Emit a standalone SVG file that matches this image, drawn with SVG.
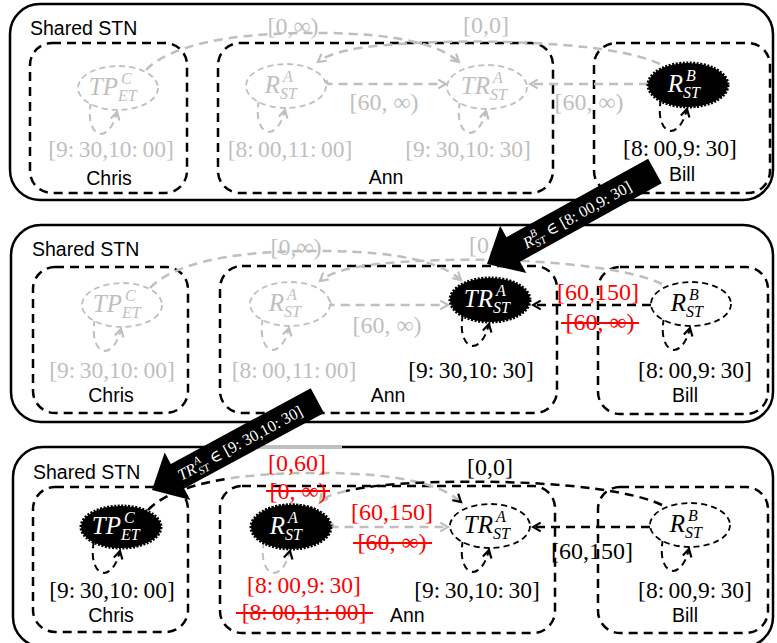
<svg xmlns="http://www.w3.org/2000/svg" width="777" height="643" viewBox="0 0 777 643">
  <defs>
    <style>
      .panel { fill: none; stroke: #000; stroke-width: 2.5; }
      .agent { fill: none; stroke: #000; stroke-width: 2.5; stroke-dasharray: 9 6; }
      .sans { font-family: "Liberation Sans", Arial, sans-serif; font-size: 19.5px; fill: #000; }
      .m { font-family: "Liberation Serif", "DejaVu Serif", serif; font-size: 23.5px; word-spacing: -1.5px; }
      .me { font-family: "Liberation Serif", "DejaVu Serif", serif; font-size: 24px; }
      .mi { font-family: "Liberation Serif", "DejaVu Serif", serif; font-style: italic; font-size: 25px; }
      .ms { font-family: "Liberation Serif", "DejaVu Serif", serif; font-style: italic; font-size: 16px; }
      .c { text-anchor: middle; }
      .g { fill: #bfbfbf; }
      .k { fill: #000; }
      .r { fill: #ff0000; }
      .n-gray ellipse { fill: #fff; stroke: #bfbfbf; stroke-width: 1.8; stroke-dasharray: 6 4; }
      .n-gray text { fill: #bfbfbf; }
      .n-open ellipse { fill: #fff; stroke: #000; stroke-width: 1.8; stroke-dasharray: 6 4; }
      .n-open text { fill: #000; }
      .n-solid ellipse { fill: #000; stroke: #000; stroke-width: 3; stroke-dasharray: 2 1.5; }
      .n-solid text { fill: #fff; }
      .eg { fill: none; stroke: #bfbfbf; stroke-width: 2.5; stroke-dasharray: 9 6; marker-end: url(#ag); }
      .ek { fill: none; stroke: #000; stroke-width: 2.5; stroke-dasharray: 9 6; marker-end: url(#ak); }
      .lg { fill: none; stroke: #bfbfbf; stroke-width: 2; stroke-dasharray: 7 5; marker-end: url(#ag); }
      .lk { fill: none; stroke: #000; stroke-width: 2; stroke-dasharray: 7 5; marker-end: url(#ak); }
      .strike { stroke: #ff0000; stroke-width: 2; }
      .big { fill: #000; }
      .at { font-family: "Liberation Serif", "DejaVu Serif", serif; font-size: 16px; fill: #fff; }
      .ati { font-style: italic; }
      .ats { font-style: italic; font-size: 11px; }
    </style>
    <marker id="ak" viewBox="0 0 10 10" refX="8" refY="5" markerWidth="11" markerHeight="11" markerUnits="userSpaceOnUse" orient="auto">
      <path d="M1,1 L8,5 L1,9" fill="none" stroke="#000" stroke-width="2"/>
    </marker>
    <marker id="ag" viewBox="0 0 10 10" refX="8" refY="5" markerWidth="11" markerHeight="11" markerUnits="userSpaceOnUse" orient="auto">
      <path d="M1,1 L8,5 L1,9" fill="none" stroke="#bfbfbf" stroke-width="2"/>
    </marker>
    <clipPath id="ra3-cap">
      <rect x="248" y="500" width="88" height="9"/>
    </clipPath>
  </defs>

  <!-- ===== Step 1 ===== -->
  <g id="stn-1">
    <rect class="panel" x="10" y="4" width="763" height="196" rx="30"/>
    <text class="sans" x="30" y="35">Shared STN</text>
    <g id="agent-chris-1"><rect class="agent" x="30" y="43" width="157" height="150" rx="22"/><text class="sans c" x="109" y="185">Chris</text></g>
    <g id="agent-ann-1"><rect class="agent" x="218" y="43" width="335" height="150" rx="22"/><text class="sans c" x="386" y="184">Ann</text></g>
    <g id="agent-bill-1"><rect class="agent" x="594" y="43" width="176" height="150" rx="22"/><text class="sans c" x="682" y="181">Bill</text></g>

    <g id="connectors-1">
      <path class="eg" d="M146,70 C170,45 230,34 300,33 C370,32 432,38 459,62"/>
      <path class="eg" d="M660,64 C620,45 520,40 440,42 C380,44 336,48 318,62"/>
      <path class="eg" d="M326,80 L328,84 L446,84"/>
      <path class="eg" d="M648,84 L530,84"/>
      <path class="lg" transform="translate(118,88)" d="M-27,14 C-34,48 -10,60 -1,24"/>
      <path class="lg" transform="translate(286,86)" d="M-27,14 C-34,48 -10,60 -1,24"/>
      <path class="lg" transform="translate(487,87)" d="M-27,14 C-34,48 -10,60 -1,24"/>
      <path class="lk" transform="translate(688,85)" d="M-27,14 C-34,48 -10,60 -1,24"/>
      <text class="me c g" x="293" y="34">[0,∞)</text>
      <text class="me c g" x="486" y="33">[0,0]</text>
      <text class="me c g" x="384" y="110">[60, ∞)</text>
      <text class="me c g" x="589" y="110">[60, ∞)</text>
      <text class="m c g" x="111" y="157">[9: 30,10: 00]</text>
      <text class="m c g" x="290" y="157">[8: 00,11: 00]</text>
      <text class="m c g" x="468" y="157">[9: 30,10: 30]</text>
      <text class="m c k" x="680" y="156">[8: 00,9: 30]</text>
    </g>

    <g id="tp-c-1" class="n-gray" transform="translate(118,88)">
      <ellipse rx="40" ry="22"/>
      <text class="mi" x="0" y="7" text-anchor="end">TP</text><text class="ms" x="3" y="-4">C</text><text class="ms" x="0" y="13">ET</text>
    </g>
    <g id="r-a-1" class="n-gray" transform="translate(286,86)">
      <ellipse rx="40" ry="22"/>
      <text class="mi" x="-6" y="7" text-anchor="end">R</text><text class="ms" x="-3" y="-4">A</text><text class="ms" x="-6" y="13">ST</text>
    </g>
    <g id="tr-a-1" class="n-gray" transform="translate(487,87)">
      <ellipse rx="40" ry="22"/>
      <text class="mi" x="3" y="7" text-anchor="end">TR</text><text class="ms" x="6" y="-4">A</text><text class="ms" x="3" y="13">ST</text>
    </g>
    <g id="r-b-1" class="n-solid" transform="translate(688,85)">
      <ellipse rx="40" ry="22"/>
      <text class="mi" x="-5" y="7" text-anchor="end">R</text><text class="ms" x="-2" y="-4">B</text><text class="ms" x="-5" y="13">ST</text>
    </g>
  </g>

  <!-- ===== Step 2 ===== -->
  <g id="stn-2">
    <rect class="panel" x="11" y="225" width="762" height="197" rx="30"/>
    <text class="sans" x="32" y="256">Shared STN</text>
    <g id="agent-chris-2"><rect class="agent" x="33" y="267" width="155" height="146" rx="22"/><text class="sans c" x="111" y="402">Chris</text></g>
    <g id="agent-ann-2"><rect class="agent" x="220" y="266" width="337" height="147" rx="22"/><text class="sans c" x="388" y="402">Ann</text></g>
    <g id="agent-bill-2"><rect class="agent" x="598" y="267" width="170" height="147" rx="22"/><text class="sans c" x="685" y="402">Bill</text></g>

    <g id="connectors-2">
      <path class="eg" d="M150,288 C174,263 232,252 302,251 C372,250 434,256 461,280"/>
      <path class="eg" d="M662,284 C622,265 522,258 442,260 C382,262 338,266 320,281"/>
      <path class="eg" d="M329,300 L331,305 L448,305"/>
      <path class="ek" d="M651,305 L533,305"/>
      <path class="lg" transform="translate(122,305)" d="M-27,14 C-34,48 -10,60 -1,24"/>
      <path class="lg" transform="translate(290,304)" d="M-27,14 C-34,48 -10,60 -1,24"/>
      <path class="lk" transform="translate(490,300)" d="M-27,14 C-34,48 -10,60 -1,24"/>
      <path class="lk" transform="translate(691,304)" d="M-27,14 C-34,48 -10,60 -1,24"/>
      <text class="me c g" x="296" y="255">[0,∞)</text>
      <text class="me c g" x="492" y="253">[0,0]</text>
      <text class="me c g" x="387" y="333">[60, ∞)</text>
      <text class="me c r" x="598" y="300">[60,150]</text>
      <text class="me c r" x="600" y="330">[60, ∞)</text>
      <line class="strike" x1="561" y1="323" x2="639" y2="323"/>
      <text class="m c g" x="112" y="378">[9: 30,10: 00]</text>
      <text class="m c g" x="294" y="378">[8: 00,11: 00]</text>
      <text class="m c k" x="471" y="378">[9: 30,10: 30]</text>
      <text class="m c k" x="695" y="378">[8: 00,9: 30]</text>
    </g>

    <g id="tp-c-2" class="n-gray" transform="translate(122,305)">
      <ellipse rx="40" ry="22"/>
      <text class="mi" x="0" y="7" text-anchor="end">TP</text><text class="ms" x="3" y="-4">C</text><text class="ms" x="0" y="13">ET</text>
    </g>
    <g id="r-a-2" class="n-gray" transform="translate(290,304)">
      <ellipse rx="40" ry="22"/>
      <text class="mi" x="-6" y="7" text-anchor="end">R</text><text class="ms" x="-3" y="-4">A</text><text class="ms" x="-6" y="13">ST</text>
    </g>
    <g id="tr-a-2" class="n-solid" transform="translate(490,300)">
      <ellipse rx="40" ry="22"/>
      <text class="mi" x="3" y="7" text-anchor="end">TR</text><text class="ms" x="6" y="-4">A</text><text class="ms" x="3" y="13">ST</text>
    </g>
    <g id="r-b-2" class="n-open" transform="translate(691,304)">
      <ellipse rx="40" ry="22"/>
      <text class="mi" x="-5" y="7" text-anchor="end">R</text><text class="ms" x="-2" y="-4">B</text><text class="ms" x="-5" y="13">ST</text>
    </g>
  </g>

  <!-- ===== Step 3 ===== -->
  <g id="stn-3">
    <rect class="panel" x="13" y="447" width="760" height="200" rx="30"/>
    <line x1="253" y1="447" x2="342" y2="447" stroke="#bfbfbf" stroke-width="2.5"/>
    <text class="sans" x="33" y="479">Shared STN</text>
    <g id="agent-chris-3"><rect class="agent" x="33" y="487" width="155" height="145" rx="22"/><text class="sans c" x="111" y="622">Chris</text></g>
    <g id="agent-ann-3"><rect class="agent" x="220" y="486" width="335" height="147" rx="22"/><text class="sans" x="390" y="622">Ann</text></g>
    <g id="agent-bill-3"><rect class="agent" x="598" y="487" width="170" height="146" rx="22"/><text class="sans c" x="685" y="622">Bill</text></g>

    <g id="connectors-3">
      <path class="eg" style="marker-end:url(#ak)" d="M148,510 C172,485 232,474 302,473 C372,472 434,478 461,502"/>
      <path fill="none" stroke="#000" stroke-width="2.5" stroke-dasharray="9 6" d="M148,510 C162.4,495 189.8,485 224.5,479.2"/>
      <path fill="none" stroke="#000" stroke-width="2.5" stroke-dasharray="9 6" d="M662,505 C622,486 522,480 442,482 C400,483 366,486 346,491"/>
      <path class="eg" d="M346,491 C333,494 324,497 320,502"/>
      <path class="eg" d="M332,523 L334,527 L448,527"/>
      <path class="ek" d="M650,527 L533,527"/>
      <path class="lk" transform="translate(121,527)" d="M-27,14 C-34,48 -10,60 -1,24"/>
      <path class="lg" style="marker-end:url(#ak)" transform="translate(291,527)" d="M-27,14 C-34,48 -10,60 -1,24"/>
      <path class="lk" transform="translate(490,526)" d="M-27,14 C-34,48 -10,60 -1,24"/>
      <path class="lk" transform="translate(690,525)" d="M-27,14 C-34,48 -10,60 -1,24"/>
      <text class="me c r" x="297" y="471">[0,60]</text>
      <text class="me c r" x="298" y="499">[0, ∞)</text>
      <line class="strike" x1="266" y1="491" x2="330" y2="491"/>
      <text class="me c k" x="490" y="475">[0,0]</text>
      <text class="me c r" x="392" y="520">[60,150]</text>
      <text class="me c r" x="392" y="550">[60, ∞)</text>
      <line class="strike" x1="353" y1="543" x2="432" y2="543"/>
      <text class="me c k" x="592" y="559">[60,150]</text>
      <text class="m c k" x="112" y="598">[9: 30,10: 00]</text>
      <text class="m c r" x="304" y="593">[8: 00,9: 30]</text>
      <text class="m c r" x="304" y="620">[8: 00,11: 00]</text>
      <line class="strike" x1="236" y1="613" x2="373" y2="613"/>
      <text class="m c k" x="477" y="598">[9: 30,10: 30]</text>
      <text class="m c k" x="695" y="598">[8: 00,9: 30]</text>
    </g>

    <g id="tp-c-3" class="n-solid" transform="translate(121,527)">
      <ellipse rx="40" ry="21"/>
      <text class="mi" x="0" y="7" text-anchor="end">TP</text><text class="ms" x="3" y="-4">C</text><text class="ms" x="0" y="13">ET</text>
    </g>
    <g id="r-a-3" class="n-solid">
      <ellipse cx="291" cy="527" rx="40" ry="22"/>
      <ellipse cx="291" cy="527" rx="40" ry="22" fill="#a6a6a6" stroke="none" clip-path="url(#ra3-cap)"/>
      <g transform="translate(291,527)">
        <text class="mi" x="-6" y="7" text-anchor="end">R</text><text class="ms" x="-3" y="-4">A</text><text class="ms" x="-6" y="13">ST</text>
      </g>
    </g>
    <g id="tr-a-3" class="n-open" transform="translate(490,526)">
      <ellipse rx="40" ry="22"/>
      <text class="mi" x="3" y="7" text-anchor="end">TR</text><text class="ms" x="6" y="-4">A</text><text class="ms" x="3" y="13">ST</text>
    </g>
    <g id="r-b-3" class="n-open" transform="translate(690,525)">
      <ellipse rx="40" ry="22"/>
      <text class="mi" x="-5" y="7" text-anchor="end">R</text><text class="ms" x="-2" y="-4">B</text><text class="ms" x="-5" y="13">ST</text>
    </g>
  </g>

  <!-- ===== Propagation arrows between steps ===== -->
  <g id="propagate-1" transform="translate(487,264) rotate(-29)">
    <path class="big" d="M0,0 L30,-27 L30,-14 L192,-14 L192,14 L30,14 L30,27 Z"/>
    <text class="at" y="6"><tspan class="ati" x="42">R</tspan><tspan class="ats" x="52" dy="-7">B</tspan><tspan class="ats" x="52" dy="11">ST</tspan><tspan x="64" dy="-4"> ∈ [8: 00,9: 30]</tspan></text>
  </g>
  <g id="propagate-2" transform="translate(152,490) rotate(-28.4)">
    <path class="big" d="M0,0 L29,-27 L29,-14 L188,-14 L188,14 L29,14 L29,27 Z"/>
    <text class="at" y="6"><tspan class="ati" x="30">TR</tspan><tspan class="ats" x="50" dy="-7">A</tspan><tspan class="ats" x="50" dy="11">ST</tspan><tspan x="62" dy="-4"> ∈ [9: 30,10: 30]</tspan></text>
  </g>
</svg>
